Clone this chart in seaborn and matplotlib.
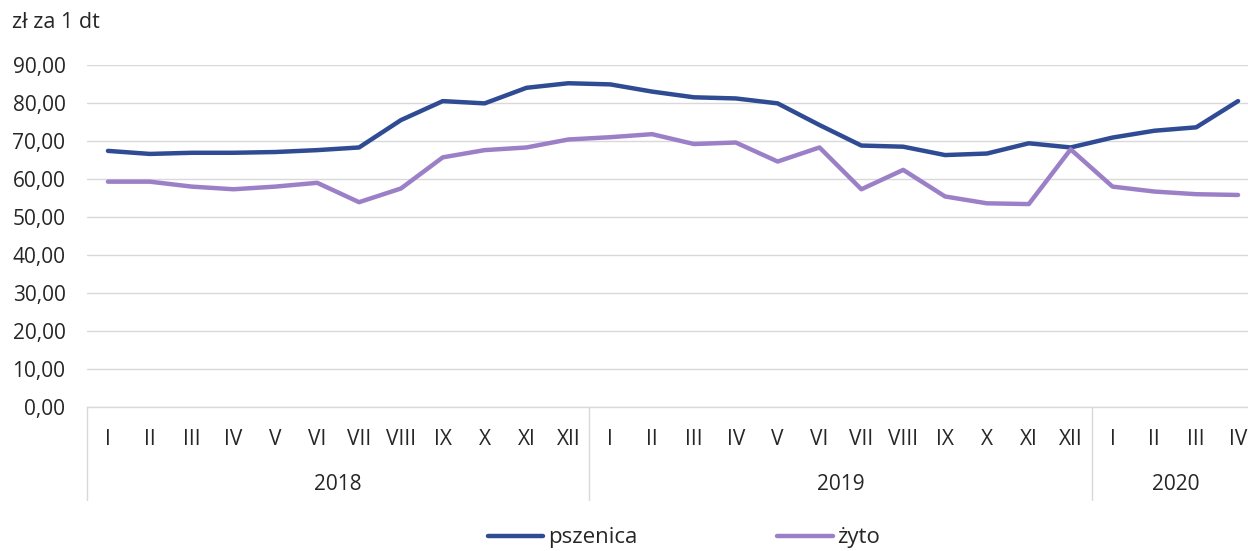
import pandas as pd
import matplotlib.pyplot as plt
import seaborn as sns
from matplotlib.lines import Line2D

# dane (zł za 1 dt), I 2018 - IV 2020
miesiace = ['I', 'II', 'III', 'IV', 'V', 'VI', 'VII', 'VIII', 'IX', 'X', 'XI', 'XII',
            'I', 'II', 'III', 'IV', 'V', 'VI', 'VII', 'VIII', 'IX', 'X', 'XI', 'XII',
            'I', 'II', 'III', 'IV']
lata = ['2018', '2019', '2020']
liczba_mies = [12, 12, 4]
pszenica = [67.4, 66.6, 66.9, 66.9, 67.1, 67.6, 68.3, 75.5, 80.5, 79.9, 84.0, 85.2,
            84.9, 83.0, 81.5, 81.2, 79.9, 74.2, 68.8, 68.5, 66.3, 66.7, 69.4, 68.3,
            70.9, 72.7, 73.6, 80.5]
zyto = [59.3, 59.3, 58.0, 57.3, 58.0, 59.0, 53.9, 57.5, 65.7, 67.6, 68.3, 70.4,
        71.0, 71.8, 69.2, 69.6, 64.6, 68.3, 57.3, 62.4, 55.4, 53.6, 53.4, 67.8,
        58.0, 56.7, 56.0, 55.8]
serie = ['pszenica', 'żyto']
kolory = {'pszenica': '#2F4B93', 'żyto': '#9C80C7'}

df = pd.DataFrame({'idx': range(len(miesiace)), 'pszenica': pszenica, 'żyto': zyto})
df_long = df.melt(id_vars='idx', var_name='seria', value_name='cena')

sns.set_theme(style='white')
plt.rcParams['font.family'] = ['Open Sans', 'DejaVu Sans']
kolor_tekstu = '#262626'
siatka = '#D9D9D9'
fs = 15

fig = plt.figure(figsize=(12.48, 5.51), dpi=100)
ax = fig.add_axes([87 / 1248, 1 - 407 / 551, (1259 - 87) / 1248, (407 - 65) / 551])

sns.lineplot(data=df_long, x='idx', y='cena', hue='seria', palette=kolory,
             linewidth=3.2, ax=ax, legend=False, solid_joinstyle='round',
             solid_capstyle='round')

ax.set_xlim(-0.5, len(miesiace) - 0.5)
ax.set_ylim(0, 90)
ax.set_yticks(range(0, 91, 10))
ax.set_yticklabels([f'{v:.2f}'.replace('.', ',') for v in range(0, 91, 10)],
                   fontsize=fs, color=kolor_tekstu)
ax.yaxis.grid(True, color=siatka, linewidth=1)
ax.set_axisbelow(True)
ax.tick_params(axis='y', length=0, pad=15.5)
ax.set_xlabel('')
ax.set_ylabel('')
for s in ['left', 'right', 'top']:
    ax.spines[s].set_visible(False)
ax.spines['bottom'].set_color(siatka)
ax.spines['bottom'].set_linewidth(1)

ax.set_xticks(range(len(miesiace)))
ax.set_xticklabels(miesiace, fontsize=fs, color=kolor_tekstu)
ax.tick_params(axis='x', length=0, pad=15.5)

# etykiety lat i separatory
tr = ax.get_xaxis_transform()
start = 0
granice = [-0.5]
for rok, n in zip(lata, liczba_mies):
    ax.text(start + (n - 1) / 2, -0.228, rok, transform=tr, ha='center', va='center',
            fontsize=fs, color=kolor_tekstu)
    start += n
    granice.append(start - 0.5)
for g in granice[:-1]:
    ax.plot([g, g], [0, -0.272], transform=tr, color=siatka, lw=1, clip_on=False)

fig.text(12 / 1248, 1 - 22 / 551, 'zł za 1 dt', fontsize=15.5, color=kolor_tekstu,
         va='center', ha='left')

uchwyty = [Line2D([], [], color=kolory[s], lw=3.2, solid_capstyle='round') for s in serie]
fig.legend(uchwyty, serie, loc='center', bbox_to_anchor=(0.548, 1 - 538 / 551),
           ncol=2, frameon=False, fontsize=16, handlelength=2.5, handletextpad=0.2,
           columnspacing=6.3, labelcolor=kolor_tekstu)

fig.savefig('out.png', dpi=100)
